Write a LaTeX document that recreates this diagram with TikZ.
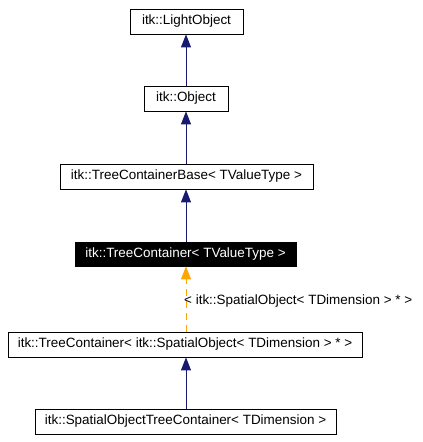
\documentclass[tikz,border=0pt]{standalone}
\usepackage{fontspec}
\setmainfont{Liberation Sans}
\usetikzlibrary{arrows.meta}
\definecolor{navyarrow}{HTML}{191970}
\definecolor{orangearrow}{HTML}{FFA500}
\begin{document}
\begin{tikzpicture}[x=1bp,y=-1bp,
  cls/.style={draw=black, line width=0.8bp, inner sep=0pt, anchor=center,
    font=\fontsize{13.5}{15}\selectfont},
  curcls/.style={cls, fill=black, text=white},
  inh/.style={draw=navyarrow, line width=1bp, -{Triangle[length=13bp,width=10bp]}},
  tmpl/.style={draw=orangearrow, line width=1bp, dash pattern=on 7bp off 5bp,
    -{Triangle[length=13bp,width=10bp]}},
  lbl/.style={inner sep=0pt, anchor=base west, font=\fontsize{13.5}{15}\selectfont}
]
\useasboundingbox[fill=white] (0,0) rectangle (422,442);
\node[cls, minimum width=113bp, minimum height=25bp] (lo) at (186.5,21.5) {itk::LightObject};
\node[cls, minimum width=84bp, minimum height=25bp] (ob) at (186,98.5) {itk::Object};
\node[cls, minimum width=253bp, minimum height=25bp] (tcb) at (186.5,176.5) {itk::TreeContainerBase< TValueType >};
\node[curcls, minimum width=221bp, minimum height=24bp] (tc) at (185.5,254) {itk::TreeContainer< TValueType >};
\node[cls, minimum width=354bp, minimum height=25bp] (tcso) at (185,344.5) {itk::TreeContainer< itk::SpatialObject< TDimension > * >};
\node[cls, minimum width=301bp, minimum height=25bp] (sotc) at (185.5,421.5) {itk::SpatialObjectTreeContainer< TDimension >};
\coordinate (x0) at (186,0);
\draw[inh] (ob.north -| x0) -- (lo.south -| x0);
\draw[inh] (tcb.north -| x0) -- (ob.south -| x0);
\draw[inh] (tc.north -| x0) -- (tcb.south -| x0);
\draw[tmpl] (tcso.north -| x0) -- (tc.south -| x0);
\draw[inh] (sotc.north -| x0) -- (tcso.south -| x0);
\node[lbl] (tl) at (184,304) {< itk::SpatialObject< TDimension > * >};
\end{tikzpicture}
\end{document}
